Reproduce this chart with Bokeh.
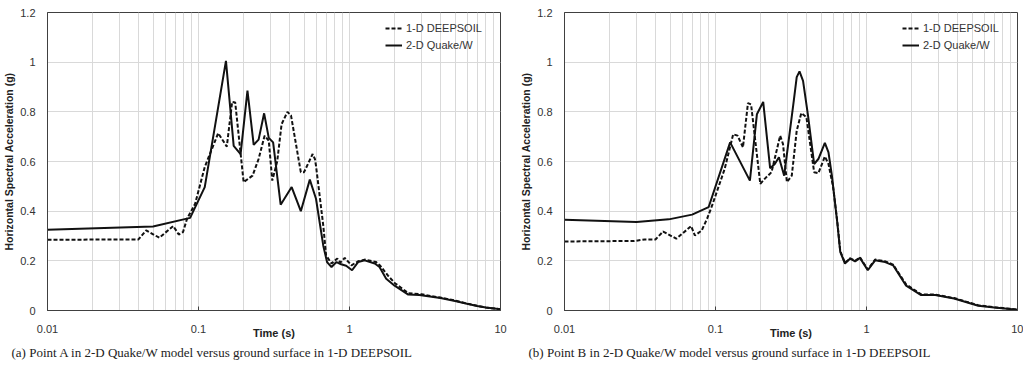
from bokeh.plotting import figure
from bokeh.layouts import row
from bokeh.models import FixedTicker, Legend, LegendItem, Title
from bokeh.embed import file_html
from bokeh.resources import INLINE

# ---- data (period in s, spectral acceleration in g) ----
a_quake_T = [0.01, 0.05, 0.088, 0.11, 0.152, 0.171, 0.19, 0.211, 0.232, 0.25, 0.272, 0.292, 0.312,
             0.35, 0.414, 0.476, 0.546, 0.60, 0.67, 0.71, 0.76, 0.82, 0.88, 0.95, 1.04, 1.14, 1.26,
             1.47, 1.58, 1.75, 1.99, 2.45, 2.9, 4.0, 5.0, 6.0, 7.0, 8.0, 10.0]
a_quake_SA = [0.325, 0.338, 0.373, 0.497, 1.005, 0.663, 0.63, 0.885, 0.667, 0.688, 0.794, 0.695, 0.677,
              0.426, 0.497, 0.40, 0.527, 0.45, 0.262, 0.195, 0.175, 0.195, 0.186, 0.18, 0.162, 0.195, 0.202,
              0.189, 0.175, 0.128, 0.10, 0.064, 0.062, 0.05, 0.038, 0.027, 0.018, 0.012, 0.005]

a_deep_T = [0.01, 0.04, 0.045, 0.055, 0.068, 0.074, 0.079, 0.084, 0.095, 0.11, 0.135, 0.154, 0.167, 0.175,
            0.199, 0.228, 0.25, 0.274, 0.292, 0.308, 0.332, 0.355, 0.388, 0.41, 0.476, 0.50, 0.57, 0.59,
            0.60, 0.67, 0.70, 0.76, 0.83, 0.87, 0.93, 1.03, 1.14, 1.26, 1.5, 1.6, 1.8, 2.0, 2.45, 3.0,
            4.0, 5.0, 6.0, 7.0, 8.0, 10.0]
a_deep_SA = [0.285, 0.286, 0.323, 0.293, 0.34, 0.306, 0.316, 0.37, 0.43, 0.578, 0.714, 0.66, 0.84, 0.838,
             0.517, 0.543, 0.61, 0.704, 0.684, 0.523, 0.60, 0.75, 0.80, 0.785, 0.557, 0.557, 0.63, 0.61,
             0.583, 0.343, 0.222, 0.189, 0.209, 0.193, 0.212, 0.182, 0.198, 0.205, 0.195, 0.18, 0.14, 0.11,
             0.07, 0.065, 0.052, 0.04, 0.028, 0.019, 0.012, 0.005]

b_quake_T = [0.01, 0.03, 0.049, 0.07, 0.09, 0.125, 0.169, 0.188, 0.207, 0.23, 0.247, 0.263, 0.285, 0.33,
             0.345, 0.36, 0.38, 0.41, 0.45, 0.48, 0.53, 0.56, 0.59, 0.64, 0.67, 0.72, 0.78, 0.84, 0.905,
             1.02, 1.14, 1.33, 1.5, 1.83, 2.3, 2.85, 3.8, 5.5, 7.0, 10.0]
b_quake_SA = [0.365, 0.356, 0.367, 0.386, 0.416, 0.677, 0.523, 0.79, 0.84, 0.573, 0.59, 0.617, 0.543, 0.845,
              0.94, 0.963, 0.925, 0.785, 0.59, 0.61, 0.675, 0.637, 0.543, 0.356, 0.236, 0.189, 0.209, 0.198,
              0.212, 0.162, 0.202, 0.195, 0.182, 0.10, 0.062, 0.062, 0.048, 0.019, 0.012, 0.003]

b_deep_T = [0.01, 0.029, 0.034, 0.04, 0.045, 0.055, 0.069, 0.073, 0.081, 0.088, 0.095, 0.105, 0.115, 0.131,
            0.14, 0.152, 0.164, 0.172, 0.198, 0.214, 0.235, 0.268, 0.28, 0.297, 0.32, 0.345, 0.37, 0.40,
            0.45, 0.48, 0.53, 0.56, 0.60, 0.64, 0.67, 0.72, 0.78, 0.84, 0.905, 1.02, 1.14, 1.33, 1.5, 1.83,
            2.3, 2.85, 3.8, 5.5, 7.0, 10.0]
b_deep_SA = [0.278, 0.28, 0.286, 0.286, 0.318, 0.289, 0.34, 0.302, 0.322, 0.37, 0.423, 0.50, 0.57, 0.71,
             0.704, 0.657, 0.835, 0.83, 0.51, 0.533, 0.557, 0.704, 0.67, 0.517, 0.543, 0.724, 0.795, 0.778,
             0.557, 0.553, 0.62, 0.59, 0.50, 0.36, 0.24, 0.192, 0.21, 0.2, 0.214, 0.165, 0.205, 0.198, 0.185,
             0.105, 0.065, 0.064, 0.05, 0.021, 0.013, 0.004]

x_ticks = [0.01, 0.1, 1, 10]
x_tick_labels = ["0.01", "0.1", "1", "10"]
y_ticks = [0, 0.2, 0.4, 0.6, 0.8, 1.0, 1.2]
y_tick_labels = ["0", "0.2", "0.4", "0.6", "0.8", "1", "1.2"]
legend_labels = ["1-D DEEPSOIL", "2-D Quake/W"]
captions = ["(a) Point A in 2-D Quake/W model versus ground surface in 1-D DEEPSOIL",
            "(b) Point B in 2-D Quake/W model versus ground surface in 1-D DEEPSOIL"]

FONT = "Liberation Sans"
TXT = "#333333"
GRID = "#d9d9d9"
EDGE = "#404040"


def make_panel(quake_T, quake_SA, deep_T, deep_SA, caption, border_right):
    p = figure(x_axis_type="log", x_range=(0.01, 10), y_range=(0, 1.2),
               frame_width=453, frame_height=298,
               min_border_left=37, min_border_right=border_right, min_border_top=12,
               min_border_bottom=0,
               output_backend="svg", toolbar_location=None)
    p.background_fill_color = "white"
    p.border_fill_color = "white"
    p.outline_line_color = EDGE
    p.outline_line_width = 1

    minor = [m * d for d in [0.01, 0.1, 1] for m in range(2, 10)]
    p.xaxis.ticker = FixedTicker(ticks=x_ticks, minor_ticks=minor)
    p.xaxis.major_label_overrides = {t: l for t, l in zip(x_ticks, x_tick_labels)}
    p.yaxis.ticker = FixedTicker(ticks=y_ticks)
    p.yaxis.major_label_overrides = {t: l for t, l in zip(y_ticks, y_tick_labels)}

    for ax in (p.xaxis[0], p.yaxis[0]):
        ax.axis_line_color = EDGE
        ax.major_label_text_font = FONT
        ax.major_label_text_font_size = "11px"
        ax.major_label_text_color = TXT
        ax.minor_tick_line_color = None
        ax.axis_label_text_font = FONT
        ax.axis_label_text_font_style = "bold"
        ax.axis_label_text_color = "#222222"

    p.xaxis.major_tick_in = 4
    p.xaxis.major_tick_out = 0
    p.xaxis.major_tick_line_color = EDGE
    p.xaxis.major_label_standoff = 10
    p.xaxis.axis_label = "Time (s)"
    p.xaxis.axis_label_text_font_size = "11px"
    p.xaxis.axis_label_standoff = -9

    p.yaxis.major_tick_line_color = None
    p.yaxis.major_label_standoff = 6
    p.yaxis.axis_label = "Horizontal Spectral Acceleration (g)"
    p.yaxis.axis_label_text_font_size = "10.5px"
    p.yaxis.axis_label_standoff = 2

    p.xgrid.grid_line_color = GRID
    p.xgrid.minor_grid_line_color = GRID
    p.ygrid.grid_line_color = GRID

    r_deep = p.line(deep_T, deep_SA, line_color="#111111", line_width=2, line_dash="4 2")
    r_quake = p.line(quake_T, quake_SA, line_color="#111111", line_width=2)

    legend = Legend(items=[LegendItem(label=legend_labels[0], renderers=[r_deep]),
                           LegendItem(label=legend_labels[1], renderers=[r_quake])],
                    location=(338, 258), margin=0, padding=0, spacing=3,
                    glyph_width=17, glyph_height=14, label_height=14, label_standoff=4,
                    label_text_font=FONT, label_text_font_size="11px", label_text_color=TXT,
                    background_fill_alpha=0, border_line_color=None)
    p.add_layout(legend)

    p.add_layout(Title(text=caption, align="left", offset=-36, standoff=2,
                       text_font="Liberation Serif", text_font_size="13px",
                       text_font_style="normal", text_color="#222222"), "below")
    return p


p1 = make_panel(a_quake_T, a_quake_SA, a_deep_T, a_deep_SA, captions[0], 17)
p2 = make_panel(b_quake_T, b_quake_SA, b_deep_T, b_deep_SA, captions[1], 6)
layout = row(p1, p2)

open("out.html", "w").write(file_html(layout, INLINE))
